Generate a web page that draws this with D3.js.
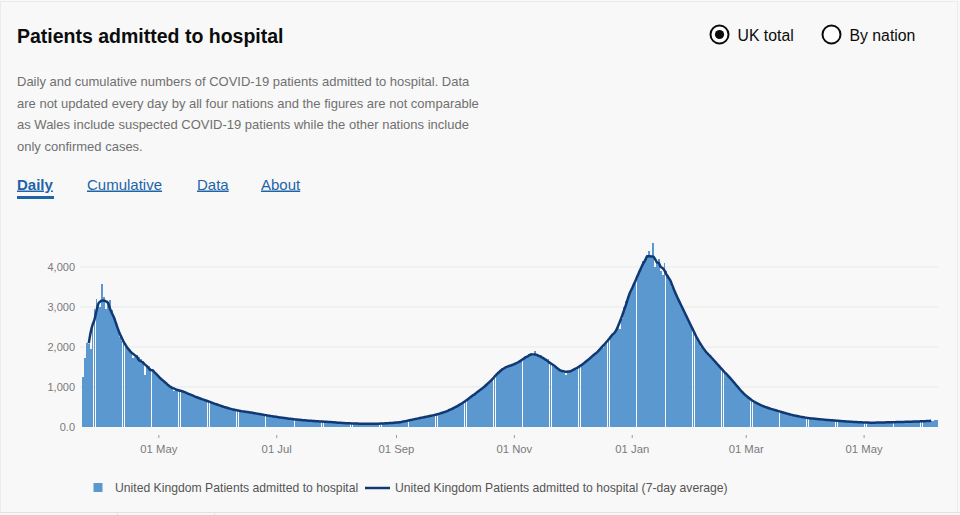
<!DOCTYPE html>
<html>
<head>
<meta charset="utf-8">
<script src="https://cdn.jsdelivr.net/npm/d3@7"></script>
<style>
  html, body { margin: 0; padding: 0; background: #f8f8f8; }
  svg { display: block; font-family: "Liberation Sans", Arial, sans-serif; }
</style>
</head>
<body>
<svg id="chart" width="960" height="515"></svg>
<script>
// ---------- data ----------
const titleText = "Patients admitted to hospital";
const descLines = [
  "Daily and cumulative numbers of COVID-19 patients admitted to hospital. Data",
  "are not updated every day by all four nations and the figures are not comparable",
  "as Wales include suspected COVID-19 patients while the other nations include",
  "only confirmed cases."
];
const tabLabels = ["Daily", "Cumulative", "Data", "About"];
const radioLabels = ["UK total", "By nation"];
const startDate = "2020-03-23";
const dailyAdmissions = [
  1260, 1720, 2100, 2070, 1960, 2600, 2950,
  3200, 3050, 3000, 3575, 3250, 2950, 3100,
  3175, 2920, 2700, 2600, 2450, 2250, 2150,
  2200, 2020, 1980, 1900, 1880, 1720, 1750,
  1800, 1750, 1700, 1650, 1300, 1560, 1520,
  1480, 1450, 1350, 1300, 1260, 1220, 1180,
  1150, 1080, 1050, 1010, 980, 900, 920,
  950, 940, 900, 880, 860, 850, 800,
  820, 790, 760, 740, 720, 700, 680,
  690, 660, 640, 620, 600, 580, 560,
  560, 540, 520, 500, 480, 470, 450,
  460, 440, 420, 410, 400, 390, 380,
  390, 380, 370, 360, 350, 340, 330,
  330, 320, 310, 300, 290, 285, 275,
  270, 260, 255, 245, 240, 230, 225,
  220, 215, 205, 200, 195, 190, 185,
  180, 175, 170, 165, 160, 160, 155,
  150, 150, 145, 140, 140, 135, 130,
  130, 125, 125, 120, 115, 115, 110,
  105, 100, 100, 95, 95, 90, 90,
  90, 85, 85, 85, 80, 80, 80,
  80, 80, 80, 78, 80, 82, 85,
  85, 88, 90, 92, 95, 98, 100,
  105, 110, 115, 120, 125, 130, 140,
  160, 170, 180, 190, 200, 210, 220,
  230, 240, 250, 260, 270, 280, 290,
  300, 310, 320, 340, 350, 370, 390,
  410, 430, 450, 480, 500, 520, 550,
  590, 620, 650, 690, 720, 760, 800,
  840, 870, 900, 940, 980, 1010, 1050,
  1100, 1150, 1200, 1260, 1310, 1360, 1420,
  1480, 1470, 1500, 1520, 1540, 1560, 1550,
  1580, 1600, 1620, 1680, 1700, 1750, 1780,
  1800, 1850, 1780, 1900, 1820, 1750, 1800,
  1700, 1680, 1640, 1700, 1600, 1550, 1500,
  1480, 1460, 1420, 1400, 1350, 1300, 1380,
  1400, 1420, 1450, 1430, 1480, 1500, 1540,
  1580, 1620, 1680, 1700, 1740, 1780, 1820,
  1880, 1920, 1950, 1980, 2080, 2150, 2200,
  2250, 2300, 2350, 2400, 2500, 2450, 2700,
  3000, 3150, 3250, 3350, 3450, 3550, 3700,
  3700, 3900, 4000, 4150, 4200, 4300, 4400,
  4250, 4590, 4000, 4100, 4200, 3900, 3800,
  4100, 3900, 3800, 3650, 3500, 3400, 3300,
  3200, 3100, 3000, 2900, 2800, 2700, 2600,
  2500, 2400, 2300, 2200, 2100, 2000, 1950,
  1900, 1850, 1800, 1750, 1700, 1650, 1600,
  1520, 1480, 1420, 1380, 1320, 1280, 1220,
  1180, 1120, 1050, 980, 930, 880, 830,
  780, 740, 700, 670, 640, 610, 590,
  560, 540, 520, 500, 480, 470, 460,
  440, 420, 410, 400, 380, 370, 360,
  340, 320, 310, 300, 290, 280, 270,
  260, 250, 240, 230, 225, 220, 215,
  210, 205, 200, 195, 190, 185, 180,
  180, 175, 170, 165, 160, 160, 155,
  150, 145, 140, 140, 135, 135, 130,
  125, 125, 120, 120, 115, 115, 110,
  110, 110, 105, 105, 110, 110, 110,
  115, 115, 110, 115, 120, 115, 120,
  120, 125, 120, 125, 130, 125, 130,
  130, 135, 130, 135, 140, 135, 140,
  140, 145, 145, 150, 150, 155, 160,
  165, 180
];
const yTickValues = [0, 1000, 2000, 3000, 4000];
const yTickLabels = ["0.0", "1,000", "2,000", "3,000", "4,000"];
const xTickDates = ["2020-05-01", "2020-07-01", "2020-09-01", "2020-11-01", "2021-01-01", "2021-03-01", "2021-05-01"];
const xTickLabels = ["01 May", "01 Jul", "01 Sep", "01 Nov", "01 Jan", "01 Mar", "01 May"];
const legendLabels = ["United Kingdom Patients admitted to hospital", "United Kingdom Patients admitted to hospital (7-day average)"];

// ---------- derived ----------
const parse = d3.utcParse("%Y-%m-%d");
const day0 = parse(startDate);
const records = dailyAdmissions.map((v, i) => ({ date: d3.utcDay.offset(day0, i), value: v }));
// centred 7-day average
const avg = [];
for (let i = 3; i < records.length - 3; i++) {
  avg.push({ date: records[i].date, value: d3.mean(records.slice(i - 3, i + 4), d => d.value) });
}

// ---------- layout ----------
const svg = d3.select("#chart");
const W = 960, H = 515;
const barColor = "#5b98d0";
const lineColor = "#103872";
const linkColor = "#1d64a8";

svg.append("rect").attr("x", 0.5).attr("y", 1.5).attr("width", W - 3).attr("height", H - 4)
  .attr("fill", "#f8f8f8").attr("stroke", "#ececec");

svg.append("text").attr("x", 17).attr("y", 43)
  .attr("font-size", 19.5).attr("font-weight", "bold").attr("fill", "#0b0c0c").text(titleText);

svg.append("g").selectAll("text").data(descLines).join("text")
  .attr("x", 17).attr("y", (d, i) => 86 + i * 21.7)
  .attr("font-size", 13).attr("fill", "#707070").text(d => d);

// radios
const radioX = [719.5, 831.5];
const rg = svg.append("g").selectAll("g").data(radioLabels).join("g");
rg.append("circle").attr("cx", (d, i) => radioX[i]).attr("cy", 34.5).attr("r", 9)
  .attr("fill", "#fff").attr("stroke", "#0b0c0c").attr("stroke-width", 2);
rg.filter((d, i) => i === 0).append("circle").attr("cx", radioX[0]).attr("cy", 34.5).attr("r", 4.6).attr("fill", "#0b0c0c");
rg.append("text").attr("x", (d, i) => radioX[i] + 18).attr("y", 40.5)
  .attr("font-size", 15.8).attr("fill", "#0b0c0c").text(d => d);

// tabs
const tabX = [17, 87, 197, 261];
svg.append("g").selectAll("text").data(tabLabels).join("text")
  .attr("x", (d, i) => tabX[i]).attr("y", 189.5)
  .attr("font-size", 15).attr("font-weight", (d, i) => i === 0 ? "bold" : "normal")
  .attr("fill", linkColor).attr("text-decoration", "underline").text(d => d);
svg.append("rect").attr("x", 17).attr("y", 196).attr("width", 37).attr("height", 3).attr("fill", linkColor);

// scales
const x = d3.scaleUtc()
  .domain([d3.utcHour.offset(day0, -12), d3.utcHour.offset(records[records.length - 1].date, 12)])
  .range([82, 938]);
const y = d3.scaleLinear().domain([0, 4000]).range([427, 267]);
const step = x(d3.utcDay.offset(day0, 1)) - x(day0);

// gridlines
svg.append("g").selectAll("line").data(yTickValues.slice(1)).join("line")
  .attr("x1", 80).attr("x2", 938).attr("y1", d => y(d)).attr("y2", d => y(d))
  .attr("stroke", "#e9e9e9").attr("stroke-width", 1);

// y axis
const yAxis = d3.axisLeft(y).tickValues(yTickValues)
  .tickFormat((d, i) => yTickLabels[i]).tickSize(0).tickPadding(0);
const yg = svg.append("g").attr("transform", "translate(75,0)").call(yAxis);
yg.select(".domain").remove();
yg.selectAll("text").attr("font-size", 11).attr("fill", "#7a7a7a").attr("font-family", "Liberation Sans, Arial, sans-serif");

// bars
svg.append("g").attr("shape-rendering", "crispEdges").selectAll("rect").data(records).join("rect")
  .attr("x", d => x(d.date) - step / 2)
  .attr("width", step * 0.94)
  .attr("y", d => y(d.value))
  .attr("height", d => y(0) - y(d.value))
  .attr("fill", barColor);

// line
svg.append("path").datum(avg)
  .attr("d", d3.line().x(d => x(d.date)).y(d => y(d.value)).curve(d3.curveMonotoneX))
  .attr("fill", "none").attr("stroke", lineColor).attr("stroke-width", 2.5)
  .attr("stroke-linejoin", "round");

// x axis
const xAxis = d3.axisBottom(x).tickValues(xTickDates.map(parse))
  .tickFormat((d, i) => xTickLabels[i]).tickSizeInner(3).tickSizeOuter(0).tickPadding(6.5);
const xg = svg.append("g").attr("transform", "translate(0,435)").call(xAxis);
xg.select(".domain").remove();
xg.selectAll("line").attr("stroke", "#999");
xg.selectAll("text").attr("font-size", 11.3).attr("fill", "#7a7a7a").attr("font-family", "Liberation Sans, Arial, sans-serif");

// legend
svg.append("rect").attr("x", 93.5).attr("y", 483).attr("width", 9).attr("height", 9).attr("fill", barColor);
svg.append("text").attr("x", 115).attr("y", 492).attr("font-size", 12.2).attr("fill", "#555").text(legendLabels[0]);
svg.append("line").attr("x1", 365).attr("x2", 390).attr("y1", 488).attr("y2", 488)
  .attr("stroke", lineColor).attr("stroke-width", 2.5);
svg.append("text").attr("x", 395).attr("y", 492).attr("font-size", 12.2).attr("fill", "#555").text(legendLabels[1]);

// bottom divider
svg.append("line").attr("x1", 0).attr("x2", W).attr("y1", 512.5).attr("y2", 512.5).attr("stroke", "#e2e2e2");
svg.append("g").selectAll("line").data([117.5, 214.5]).join("line")
  .attr("x1", d => d).attr("x2", d => d).attr("y1", 512.5).attr("y2", 515).attr("stroke", "#e2e2e2");
</script>
</body>
</html>
